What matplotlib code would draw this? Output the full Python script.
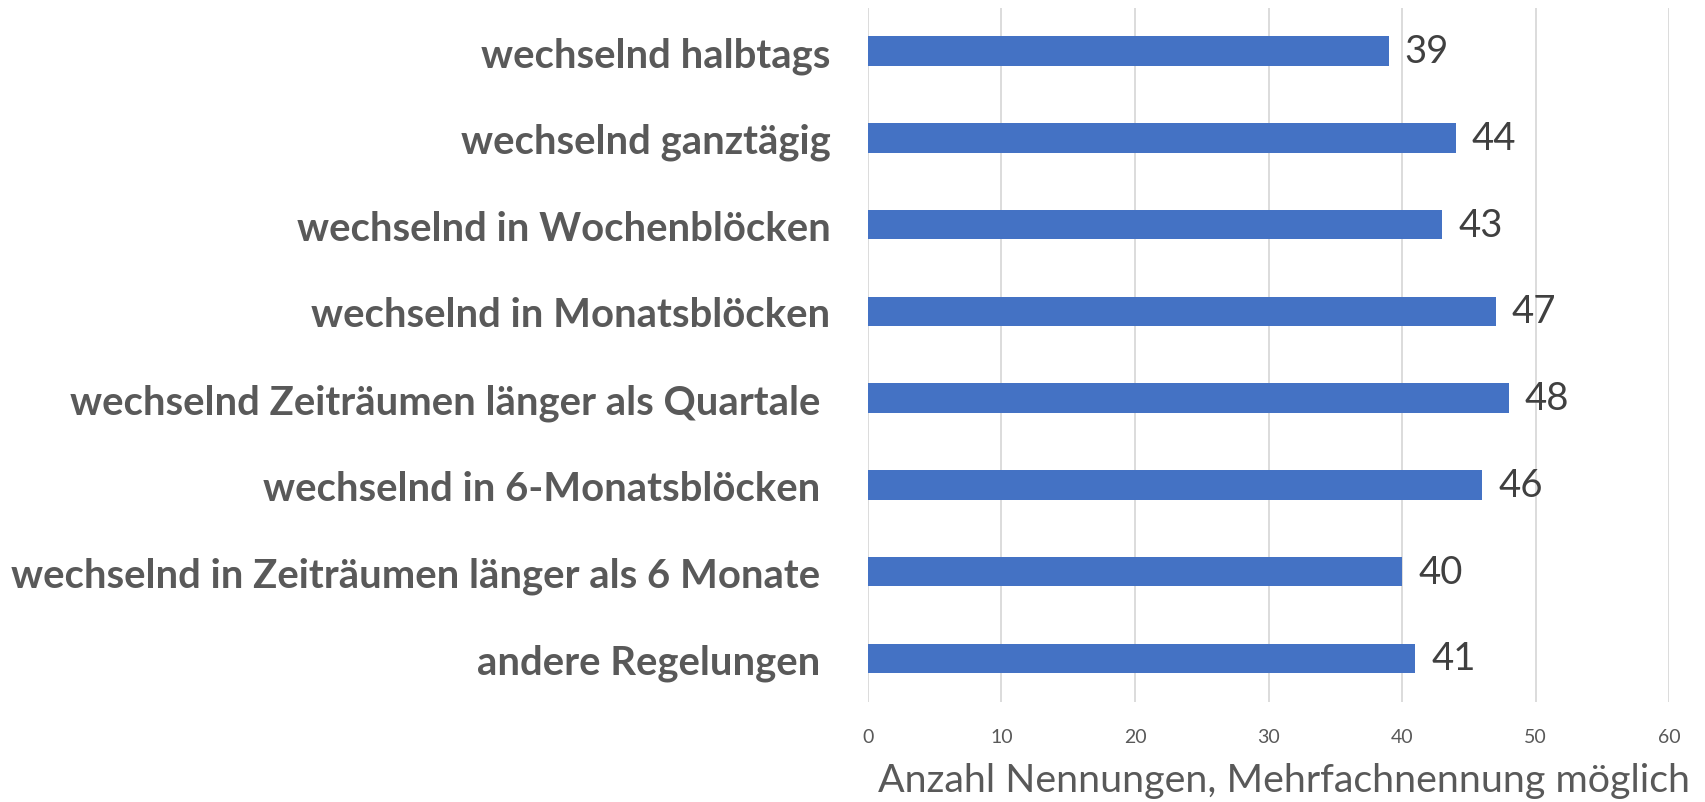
import matplotlib
matplotlib.use("Agg")
import matplotlib.pyplot as plt
import numpy as np

# Data
categories = [
    "wechselnd halbtags",
    "wechselnd ganztägig",
    "wechselnd in Wochenblöcken",
    "wechselnd in Monatsblöcken",
    "wechselnd Zeiträumen länger als Quartale ",
    "wechselnd in 6-Monatsblöcken ",
    "wechselnd in Zeiträumen länger als 6 Monate ",
    "andere Regelungen ",
]
values = [39, 44, 43, 47, 48, 46, 40, 41]
x_ticks = [0, 10, 20, 30, 40, 50, 60]
x_label = "Anzahl Nennungen, Mehrfachnennung möglich"

plt.rcParams['font.family'] = ['Lato', 'DejaVu Sans']

fig = plt.figure(figsize=(17.05, 8.03), dpi=100)
ax = fig.add_axes([0.509, 0.125, 0.470, 0.864])

y = np.arange(len(categories))
ax.barh(y, values, height=0.34, color='#4472C4', zorder=3)

for yi, v in zip(y, values):
    ax.text(v + 1.2, yi, str(v), va='center', ha='left',
            fontsize=27.5, color='#404040')

ax.set_yticks(y)
ax.set_yticklabels(categories, fontsize=28.8, fontweight='bold', color='#595959')
ax.set_ylim(len(categories) - 0.5, -0.5)

ax.set_xlim(0, 60)
ax.set_xticks(x_ticks)
ax.set_xticklabels([str(t) for t in x_ticks], fontsize=14, color='#595959')
ax.tick_params(axis='both', length=0)
ax.tick_params(axis='y', pad=27)
ax.tick_params(axis='x', pad=19)

ax.grid(axis='x', color='#d9d9d9', linewidth=1.3, zorder=0)
for s in ax.spines.values():
    s.set_visible(False)

fig.text(0.991, 0.027, x_label, ha='right', va='center', fontsize=28.4, color='#595959')

fig.savefig("out.png", dpi=100)
